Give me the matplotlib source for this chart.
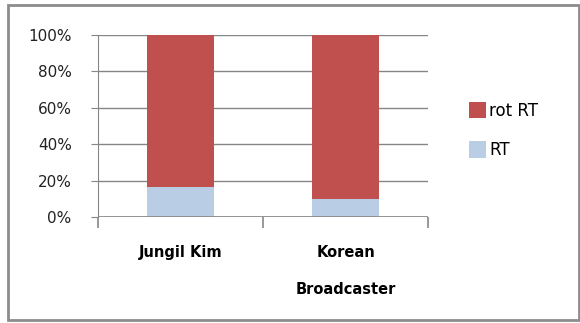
import matplotlib
matplotlib.use("Agg")
import matplotlib.pyplot as plt
from matplotlib.patches import Rectangle

categories = ["Jungil Kim", "Korean\nBroadcaster"]
rt_share = [16.5, 10.0]
not_rt_share = [83.5, 90.0]
y_ticks = [0, 20, 40, 60, 80, 100]
y_tick_labels = ["0%", "20%", "40%", "60%", "80%", "100%"]

RED = "#C0504D"
BLUE = "#B9CDE5"
GRID = "#868686"

fig = plt.figure(figsize=(5.8, 3.23), dpi=100)
fig.patches.append(Rectangle((0.014, 0.01), 0.984, 0.975, transform=fig.transFigure,
                             fill=False, edgecolor="#8c8c8c", linewidth=2))

ax = fig.add_axes([0.169, 0.328, 0.569, 0.564])
x = list(range(len(categories)))
ax.bar(x, rt_share, width=0.406, color=BLUE, label="RT", zorder=3)
ax.bar(x, not_rt_share, width=0.406, bottom=rt_share, color=RED, label="rot RT", zorder=3)

ax.set_xlim(-0.5, 1.5)
ax.set_ylim(0, 100)
ax.set_yticks(y_ticks)
ax.set_yticklabels(y_tick_labels, fontsize=11, color="#222222")
ax.yaxis.grid(True, color=GRID, linewidth=1)
ax.set_axisbelow(True)
for s in ["top", "right", "bottom"]:
    ax.spines[s].set_visible(False)
ax.spines["left"].set_color(GRID)
ax.axhline(0, color=GRID, linewidth=1.2, zorder=4)

ax.tick_params(axis="y", length=5, color=GRID, pad=14)
ax.set_xticks([-0.5, 0.5, 1.5], minor=False)
ax.set_xticklabels([])
ax.tick_params(axis="x", length=8, color=GRID, width=1.2)
ax.set_xticks(x, minor=True)
ax.set_xticklabels(categories, minor=True, fontsize=10.5, fontweight="bold", linespacing=2.85)
ax.tick_params(axis="x", which="minor", length=0, pad=20)

handles, labels = ax.get_legend_handles_labels()
ax.legend(handles[::-1], labels[::-1], loc="center left", bbox_to_anchor=(1.08, 0.475),
          frameon=False, fontsize=12, handlelength=1.0, handleheight=1.15,
          handletextpad=0.2, labelspacing=1.3)

fig.savefig("out.png", dpi=100)
